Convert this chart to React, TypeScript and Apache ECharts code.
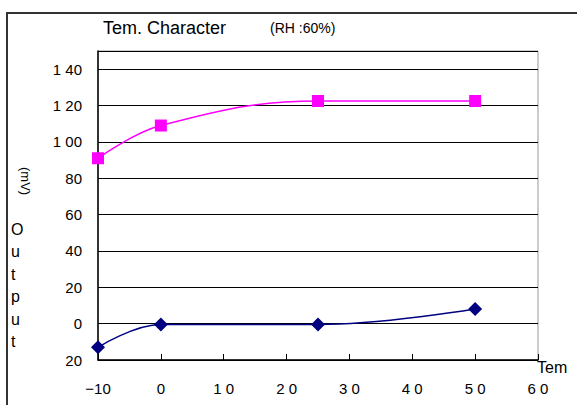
import React, { useEffect, useRef } from "react";
import * as echarts from "echarts";

const temps = [-10, 0, 25, 50];
const seriesRH = [91, 109, 122.5, 122.5];
const seriesLow = [-13, -0.5, -0.5, 8];
const yTickValues = [-20, 0, 20, 40, 60, 80, 100, 120, 140];
const yTickLabels = ["20", "0", "20", "40", "60", "80", "1 00", "1 20", "1 40"];
const xTickValues = [-10, 0, 10, 20, 30, 40, 50, 60];
const xTickLabels = ["−10", "0", "1 0", "2 0", "3 0", "4 0", "5 0", "6 0"];

export default function App() {
  const ref = useRef<HTMLDivElement>(null);
  useEffect(() => {
    document.body.style.margin = "0";
    const chart = echarts.init(ref.current!, null, { renderer: "svg" });
    const font = "'Liberation Sans', Arial, sans-serif";
    chart.setOption({
      animation: false,
      backgroundColor: "#fff",
      grid: {
        left: 98,
        right: 39,
        top: 51,
        bottom: 45,
        show: true,
        borderColor: "#999",
        borderWidth: 1,
      },
      xAxis: {
        type: "value",
        min: -10,
        max: 60,
        interval: 10,
        axisLine: { show: true, onZero: false, lineStyle: { color: "#000", width: 1.5 } },
        axisTick: { show: true, inside: true, length: 6, lineStyle: { color: "#000" } },
        splitLine: { show: false },
        axisLabel: {
          color: "#000",
          fontSize: 15,
          fontFamily: font,
          margin: 21,
          formatter: (v: number) => {
            const i = xTickValues.indexOf(v);
            return i >= 0 ? xTickLabels[i] : "";
          },
        },
      },
      yAxis: {
        type: "value",
        min: -20,
        max: 150,
        interval: 20,
        axisLine: { show: true, onZero: false, lineStyle: { color: "#000", width: 1.5 } },
        axisTick: { show: false },
        splitLine: { show: true, lineStyle: { color: "#000", width: 1 } },
        axisLabel: {
          color: "#000",
          fontSize: 15,
          fontFamily: font,
          margin: 16,
          formatter: (v: number) => {
            const i = yTickValues.indexOf(v);
            return i >= 0 ? yTickLabels[i] : "";
          },
        },
      },
      graphic: [
        {
          type: "rect",
          shape: { x: 7, y: 13, width: 600, height: 420 },
          style: { fill: "none", stroke: "#333", lineWidth: 2 },
          silent: true,
        },
        {
          type: "text",
          x: 103,
          y: 19,
          style: { text: "Tem. Character", fontSize: 18, fontFamily: font, fill: "#000" },
        },
        {
          type: "text",
          x: 270,
          y: 21,
          style: { text: "(RH :60%)", fontSize: 14, fontFamily: font, fill: "#000" },
        },
        {
          type: "text",
          x: 32,
          y: 167,
          rotation: -Math.PI / 2,
          style: { text: "(mV)", fontSize: 13, fontFamily: font, fill: "#000" },
        },
        {
          type: "text",
          x: 11,
          y: 218,
          style: {
            text: "O\nu\nt\np\nu\nt",
            fontSize: 16,
            lineHeight: 22.5,
            fontFamily: font,
            fill: "#000",
          },
        },
        {
          type: "text",
          x: 537,
          y: 359,
          style: { text: "Tem", fontSize: 16, fontFamily: font, fill: "#000" },
        },
      ],
      series: [
        {
          type: "line",
          data: temps.map((t, i) => [t, seriesRH[i]]),
          smooth: 0.4,
          symbol: "rect",
          symbolSize: 12,
          itemStyle: { color: "#ff00ff" },
          lineStyle: { color: "#ff00ff", width: 1.5 },
        },
        {
          type: "line",
          data: temps.map((t, i) => [t, seriesLow[i]]),
          smooth: 0.4,
          symbol: "diamond",
          symbolSize: 14,
          itemStyle: { color: "#000080" },
          lineStyle: { color: "#000080", width: 1.5 },
        },
      ],
    });
    return () => chart.dispose();
  }, []);
  return <div ref={ref} style={{ width: 577, height: 405 }} />;
}
